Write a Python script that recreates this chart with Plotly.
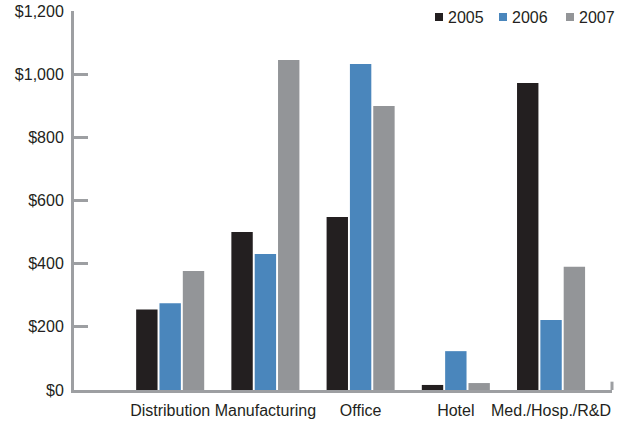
import plotly.graph_objects as go

categories = ["Distribution", "Manufacturing", "Office", "Hotel", "Med./Hosp./R&D"]
values_2005 = [255, 500, 548, 16, 972]
values_2006 = [275, 431, 1032, 123, 222]
values_2007 = [377, 1045, 899, 22, 390]
years = ["2005", "2006", "2007"]
colors = ["#231f20", "#4a86bc", "#939598"]
y_ticks = [0, 200, 400, 600, 800, 1000, 1200]
y_tick_labels = ["$0", "$200", "$400", "$600", "$800", "$1,000", "$1,200"]

axis_gray = "#9d9fa2"
text_color = "#231f20"
font_family = "Liberation Sans, Arial, sans-serif"

fig = go.Figure()
for year, vals, col in zip(years, [values_2005, values_2006, values_2007], colors):
    fig.add_trace(go.Bar(
        x=list(range(len(categories))), y=vals, name=year,
        marker=dict(color=col, line=dict(width=0)),
    ))

fig.update_layout(
    width=621, height=422,
    margin=dict(l=74, r=9, t=11, b=32, autoexpand=False),
    paper_bgcolor="white", plot_bgcolor="white",
    barmode="group", bargap=0.265, bargroupgap=0.083,
    font=dict(family=font_family, size=16, color=text_color),
    showlegend=False,
    xaxis=dict(
        range=[-1.01, 4.64], tickmode="array",
        tickvals=list(range(len(categories))), ticktext=categories,
        showgrid=False, zeroline=False, showline=True,
        linecolor=axis_gray, linewidth=3, ticks="", ticklabelstandoff=4,
        tickfont=dict(size=16, color=text_color),
    ),
    yaxis=dict(
        range=[0, 1200], tickmode="array", tickvals=y_ticks, ticktext=y_tick_labels,
        showgrid=False, zeroline=False, showline=True,
        linecolor=axis_gray, linewidth=3,
        ticks="inside", ticklen=14, tickwidth=3, tickcolor=axis_gray,
        ticklabelstandoff=4,
        tickfont=dict(size=16, color=text_color),
    ),
)

# small upward tick closing the right end of the category axis
fig.add_shape(type="line", xref="paper", yref="paper",
              x0=1, x1=1, y0=0, y1=0.022,
              line=dict(color=axis_gray, width=3))

# key: colour squares with the year beside each, top right (pixel positions)
key_square_x = [435, 499, 566]
for year, col, sx in zip(years, colors, key_square_x):
    fig.add_shape(type="rect", xref="paper", yref="paper",
                  x0=(sx - 74) / 538, x1=(sx + 8 - 74) / 538,
                  y0=(390 - 21) / 379, y1=(390 - 13) / 379,
                  line=dict(width=0), fillcolor=col)
    fig.add_annotation(xref="paper", yref="paper",
                       x=(sx + 11 - 74) / 538, y=(390 - 17) / 379,
                       xanchor="left", yanchor="middle", showarrow=False,
                       text=year, font=dict(size=16, color=text_color))

fig.write_html("out.html")
